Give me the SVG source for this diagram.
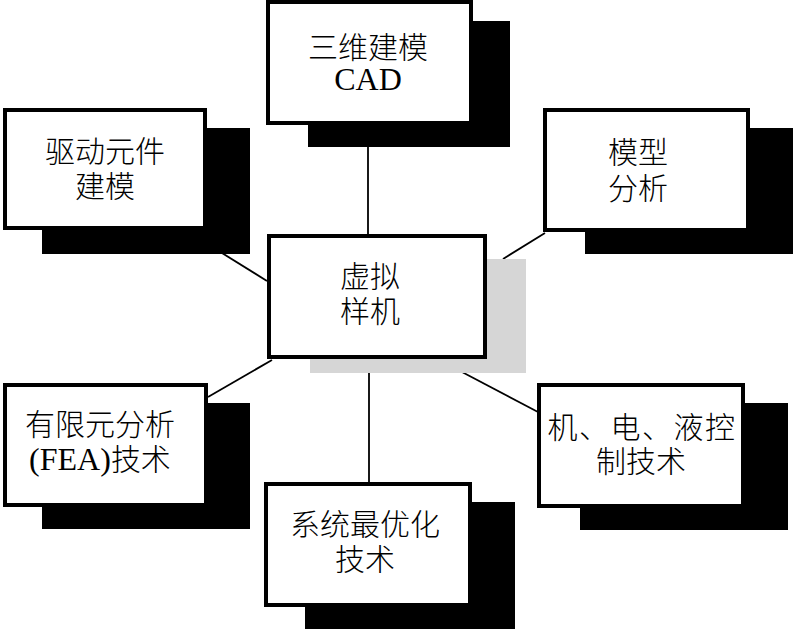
<svg xmlns="http://www.w3.org/2000/svg" width="793" height="629" viewBox="0 0 793 629">
<style>
.shadow{fill:#000}
.gshadow{fill:#d6d6d6}
.box{fill:#fff;stroke:#000;stroke-width:4}
.lbl{font-family:"Liberation Serif","Noto Sans CJK SC",serif;font-size:30px;font-weight:300;fill:#000;text-anchor:middle}
.lat{font-size:32px;font-weight:400}
.conn line{stroke:#000;stroke-width:1.8}
</style>
<rect width="793" height="629" fill="#fff"/>
<g id="connectors" class="conn">
<line x1="368" y1="147" x2="368" y2="236"/>
<line x1="222" y1="253" x2="267" y2="281"/>
<line x1="503" y1="259" x2="545" y2="233"/>
<line x1="208" y1="397" x2="272" y2="360"/>
<line x1="369" y1="373" x2="369" y2="484"/>
<line x1="462" y1="372" x2="538" y2="412"/>
</g>
<g id="cad">
<rect class="shadow" x="308" y="21" width="202" height="126"/>
<rect class="box" x="268" y="2" width="203" height="121"/>
<text class="lbl" x="368" y="58">三维建模</text>
<text class="lbl lat" x="368" y="90">CAD</text>
</g>
<g id="drive">
<rect class="shadow" x="42" y="128" width="208" height="126"/>
<rect class="box" x="5" y="110" width="200" height="118"/>
<text class="lbl" x="105" y="162">驱动元件</text>
<text class="lbl" x="105" y="197">建模</text>
</g>
<g id="model">
<rect class="shadow" x="585" y="128" width="208" height="126"/>
<rect class="box" x="545" y="110" width="203" height="120"/>
<text class="lbl" x="638" y="163">模型</text>
<text class="lbl" x="638" y="199">分析</text>
</g>
<g id="center">
<rect class="gshadow" x="310" y="259" width="216" height="114"/>
<rect class="box" x="269" y="236" width="216" height="121"/>
<text class="lbl" x="370" y="287">虚拟</text>
<text class="lbl" x="370" y="322">样机</text>
</g>
<g id="fea">
<rect class="shadow" x="42" y="403" width="208" height="126"/>
<rect class="box" x="5" y="385" width="201" height="120"/>
<text class="lbl" x="100" y="435">有限元分析</text>
<text class="lbl" x="100" y="470"><tspan class="lat">(FEA)</tspan>技术</text>
</g>
<g id="control">
<rect class="shadow" x="580" y="403" width="208" height="127"/>
<rect class="box" x="539" y="385" width="204" height="121"/>
<text class="lbl" x="642" y="438" style="letter-spacing:1.5px">机、电、液控</text>
<text class="lbl" x="641" y="472">制技术</text>
</g>
<g id="optim">
<rect class="shadow" x="305" y="502" width="210" height="127"/>
<rect class="box" x="266" y="484" width="204" height="121"/>
<text class="lbl" x="365" y="535">系统最优化</text>
<text class="lbl" x="365" y="570">技术</text>
</g>
</svg>
